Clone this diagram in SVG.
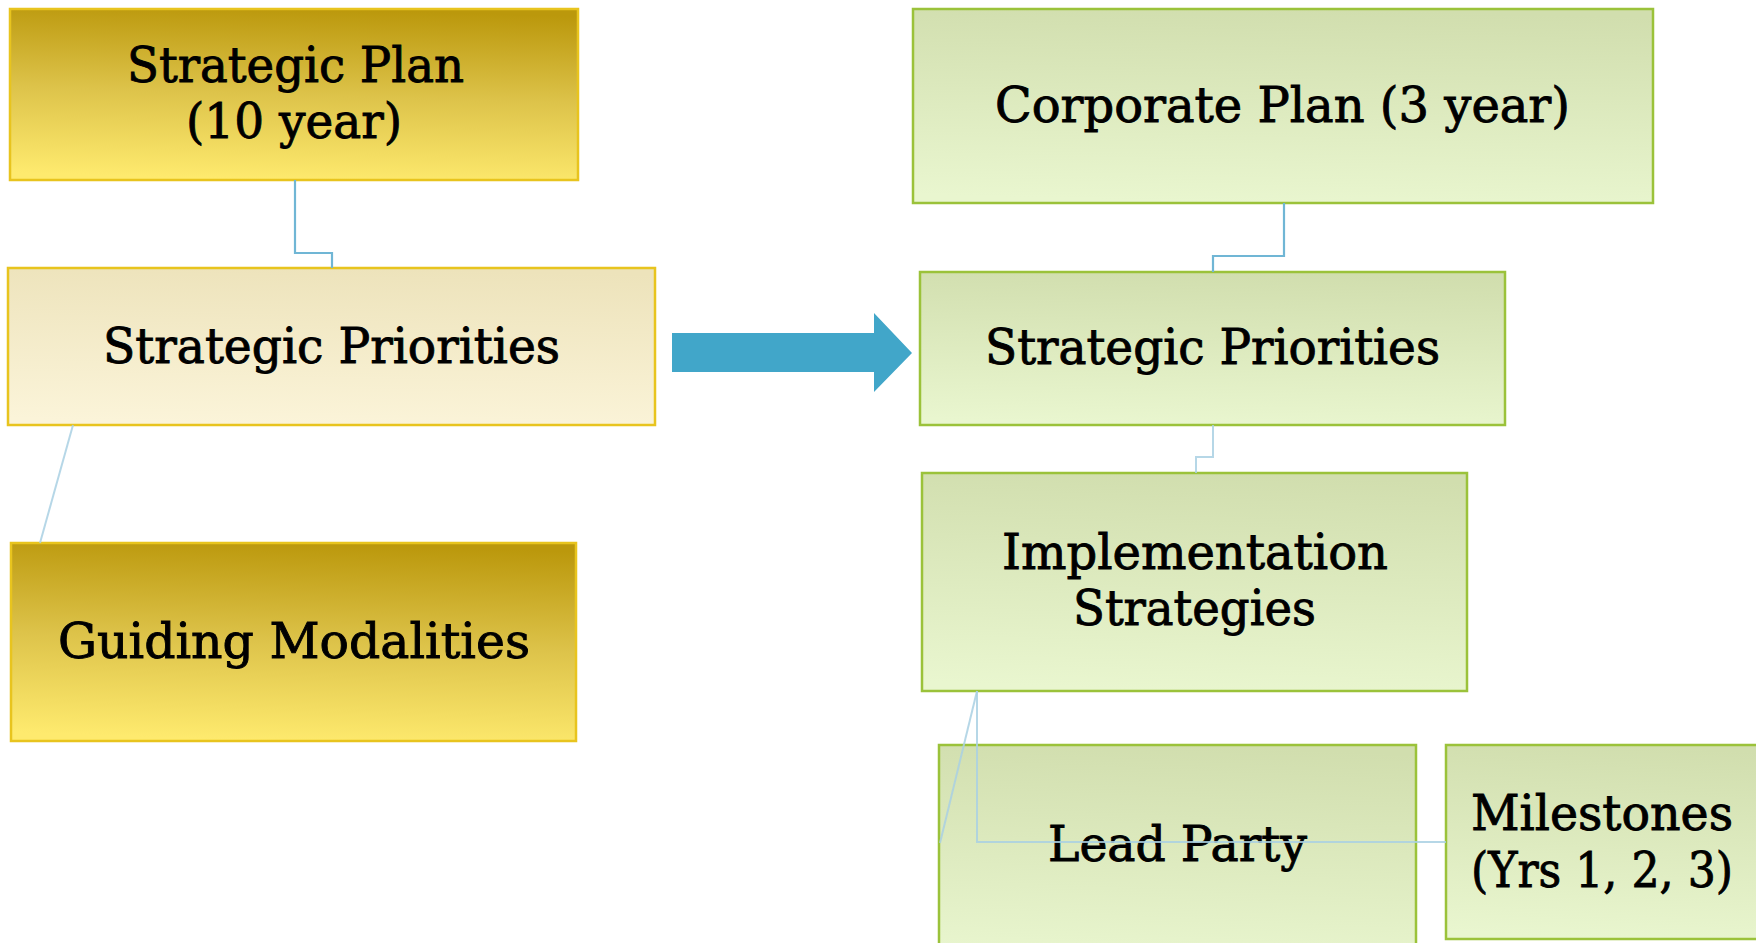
<svg xmlns="http://www.w3.org/2000/svg" width="1756" height="943" viewBox="0 0 1756 943">
<defs>
<linearGradient id="gGold" x1="0.55" y1="0" x2="0.45" y2="1">
<stop offset="0" stop-color="#BB980C"/>
<stop offset="0.5" stop-color="#DDC34A"/>
<stop offset="1" stop-color="#FEEA6E"/>
</linearGradient>
<linearGradient id="gCream" x1="0.55" y1="0" x2="0.45" y2="1">
<stop offset="0" stop-color="#EDE3BB"/>
<stop offset="1" stop-color="#FBF4D9"/>
</linearGradient>
<linearGradient id="gGreen" x1="0.55" y1="0" x2="0.45" y2="1">
<stop offset="0" stop-color="#D1DEAE"/>
<stop offset="1" stop-color="#E9F6CF"/>
</linearGradient>
<style>
.gold{fill:url(#gGold);stroke:#E8C41E;stroke-width:2.5}
.cream{fill:url(#gCream);stroke:#E8C41E;stroke-width:2.5}
.green{fill:url(#gGreen);stroke:#9BC23A;stroke-width:2.5}
text{font-family:"DejaVu Serif","Liberation Serif",serif;font-size:48px;fill:#000;stroke:#000;stroke-width:0.9}
.c1{fill:none;stroke:#70B6D5;stroke-width:2.2}
.c2{fill:none;stroke:#A9D0E3;stroke-width:2;opacity:0.85}
</style>
</defs>
<g id="strategic-plan">
<rect class="gold" x="10" y="9" width="568" height="171"/>
<text x="127" y="82" textLength="337" lengthAdjust="spacingAndGlyphs">Strategic Plan</text>
<text x="186" y="138" textLength="216" lengthAdjust="spacingAndGlyphs">(10 year)</text>
</g>
<g id="strategic-priorities-left">
<rect class="cream" x="8" y="268" width="647" height="157"/>
<text x="103" y="363" textLength="457" lengthAdjust="spacingAndGlyphs">Strategic Priorities</text>
</g>
<g id="guiding-modalities">
<rect class="gold" x="11" y="543" width="565" height="198"/>
<text x="58" y="658" textLength="472" lengthAdjust="spacingAndGlyphs">Guiding Modalities</text>
</g>
<g id="corporate-plan">
<rect class="green" x="913" y="9" width="740" height="194"/>
<text x="995" y="122" textLength="575" lengthAdjust="spacingAndGlyphs">Corporate Plan (3 year)</text>
</g>
<g id="strategic-priorities-right">
<rect class="green" x="920" y="272" width="585" height="153"/>
<text x="985" y="364" textLength="455" lengthAdjust="spacingAndGlyphs">Strategic Priorities</text>
</g>
<g id="implementation-strategies">
<rect class="green" x="922" y="473" width="545" height="218"/>
<text x="1002" y="569" textLength="386" lengthAdjust="spacingAndGlyphs">Implementation</text>
<text x="1073" y="625" textLength="243" lengthAdjust="spacingAndGlyphs">Strategies</text>
</g>
<g id="lead-party">
<rect class="green" x="939" y="745" width="477" height="220"/>
<text x="1048" y="861" textLength="259" lengthAdjust="spacingAndGlyphs">Lead Party</text>
</g>
<g id="milestones">
<rect class="green" x="1446" y="745" width="330" height="194"/>
<text x="1471" y="830" textLength="262" lengthAdjust="spacingAndGlyphs">Milestones</text>
<text x="1471" y="887" textLength="262" lengthAdjust="spacingAndGlyphs">(Yrs 1, 2, 3)</text>
</g>
<g id="connectors">
<polyline class="c1" points="295,180 295,253 332,253 332,268"/>
<line class="c2" x1="73" y1="425" x2="40" y2="543"/>
<polyline class="c1" points="1284,203 1284,256 1213,256 1213,272"/>
<polyline class="c2" points="1213,425 1213,457 1196,457 1196,473"/>
<polyline class="c2" points="977,691 977,842 1446,842"/>
<line class="c2" x1="977" y1="691" x2="940" y2="843"/>
<polygon id="transfer-arrow" fill="#41A6C9" points="672,333 874,333 874,313 912,353 874,392 874,372 672,372"/>
</g>
</svg>
